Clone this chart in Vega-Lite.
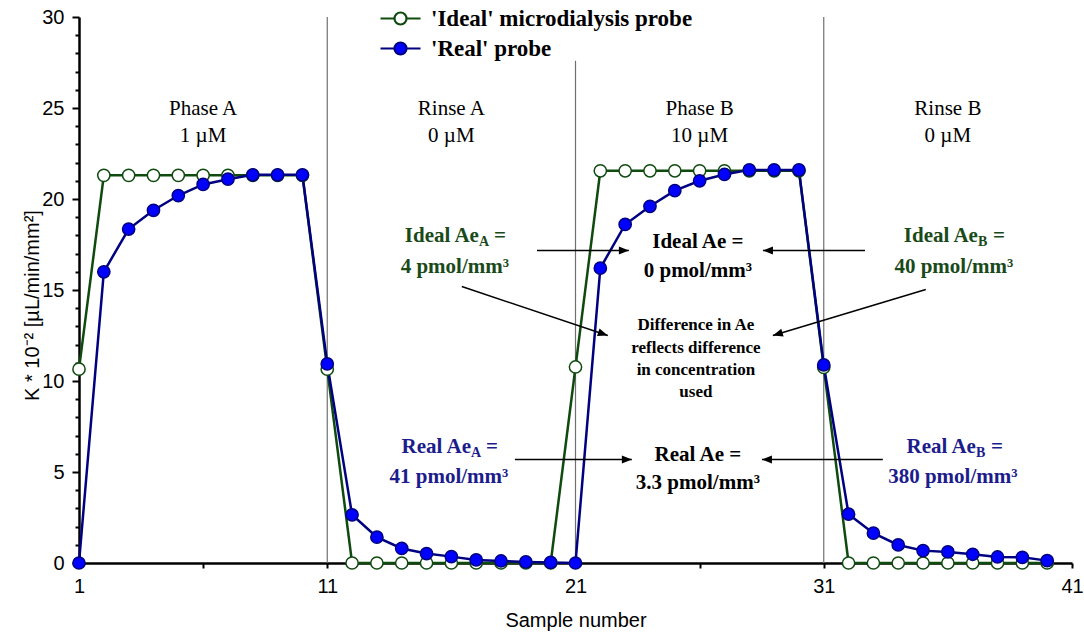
{
  "$schema": "https://vega.github.io/schema/vega-lite/v6.json",
  "width": 993,
  "height": 546,
  "autosize": {"type": "none"},
  "padding": {"left": 79, "top": 17, "right": 12, "bottom": 70},
  "background": "white",
  "config": {
    "view": {"stroke": null},
    "font": "Liberation Sans"
  },
  "datasets": {
    "probe": [
      {"series": "'Ideal' microdialysis probe", "sample": 1, "K": 10.65},
      {"series": "'Ideal' microdialysis probe", "sample": 2, "K": 21.3},
      {"series": "'Ideal' microdialysis probe", "sample": 3, "K": 21.3},
      {"series": "'Ideal' microdialysis probe", "sample": 4, "K": 21.3},
      {"series": "'Ideal' microdialysis probe", "sample": 5, "K": 21.3},
      {"series": "'Ideal' microdialysis probe", "sample": 6, "K": 21.3},
      {"series": "'Ideal' microdialysis probe", "sample": 7, "K": 21.3},
      {"series": "'Ideal' microdialysis probe", "sample": 8, "K": 21.3},
      {"series": "'Ideal' microdialysis probe", "sample": 9, "K": 21.3},
      {"series": "'Ideal' microdialysis probe", "sample": 10, "K": 21.3},
      {"series": "'Ideal' microdialysis probe", "sample": 11, "K": 10.65},
      {"series": "'Ideal' microdialysis probe", "sample": 12, "K": 0},
      {"series": "'Ideal' microdialysis probe", "sample": 13, "K": 0},
      {"series": "'Ideal' microdialysis probe", "sample": 14, "K": 0},
      {"series": "'Ideal' microdialysis probe", "sample": 15, "K": 0},
      {"series": "'Ideal' microdialysis probe", "sample": 16, "K": 0},
      {"series": "'Ideal' microdialysis probe", "sample": 17, "K": 0},
      {"series": "'Ideal' microdialysis probe", "sample": 18, "K": 0},
      {"series": "'Ideal' microdialysis probe", "sample": 19, "K": 0},
      {"series": "'Ideal' microdialysis probe", "sample": 20, "K": 0},
      {"series": "'Ideal' microdialysis probe", "sample": 21, "K": 10.77},
      {"series": "'Ideal' microdialysis probe", "sample": 22, "K": 21.55},
      {"series": "'Ideal' microdialysis probe", "sample": 23, "K": 21.55},
      {"series": "'Ideal' microdialysis probe", "sample": 24, "K": 21.55},
      {"series": "'Ideal' microdialysis probe", "sample": 25, "K": 21.55},
      {"series": "'Ideal' microdialysis probe", "sample": 26, "K": 21.55},
      {"series": "'Ideal' microdialysis probe", "sample": 27, "K": 21.55},
      {"series": "'Ideal' microdialysis probe", "sample": 28, "K": 21.55},
      {"series": "'Ideal' microdialysis probe", "sample": 29, "K": 21.55},
      {"series": "'Ideal' microdialysis probe", "sample": 30, "K": 21.55},
      {"series": "'Ideal' microdialysis probe", "sample": 31, "K": 10.75},
      {"series": "'Ideal' microdialysis probe", "sample": 32, "K": 0},
      {"series": "'Ideal' microdialysis probe", "sample": 33, "K": 0},
      {"series": "'Ideal' microdialysis probe", "sample": 34, "K": 0},
      {"series": "'Ideal' microdialysis probe", "sample": 35, "K": 0},
      {"series": "'Ideal' microdialysis probe", "sample": 36, "K": 0},
      {"series": "'Ideal' microdialysis probe", "sample": 37, "K": 0},
      {"series": "'Ideal' microdialysis probe", "sample": 38, "K": 0},
      {"series": "'Ideal' microdialysis probe", "sample": 39, "K": 0},
      {"series": "'Ideal' microdialysis probe", "sample": 40, "K": 0},
      {"series": "'Real' probe", "sample": 1, "K": 0},
      {"series": "'Real' probe", "sample": 2, "K": 16.0},
      {"series": "'Real' probe", "sample": 3, "K": 18.35},
      {"series": "'Real' probe", "sample": 4, "K": 19.38},
      {"series": "'Real' probe", "sample": 5, "K": 20.19},
      {"series": "'Real' probe", "sample": 6, "K": 20.8},
      {"series": "'Real' probe", "sample": 7, "K": 21.09},
      {"series": "'Real' probe", "sample": 8, "K": 21.33},
      {"series": "'Real' probe", "sample": 9, "K": 21.33},
      {"series": "'Real' probe", "sample": 10, "K": 21.33},
      {"series": "'Real' probe", "sample": 11, "K": 10.94},
      {"series": "'Real' probe", "sample": 12, "K": 2.65},
      {"series": "'Real' probe", "sample": 13, "K": 1.42},
      {"series": "'Real' probe", "sample": 14, "K": 0.8},
      {"series": "'Real' probe", "sample": 15, "K": 0.52},
      {"series": "'Real' probe", "sample": 16, "K": 0.35},
      {"series": "'Real' probe", "sample": 17, "K": 0.17},
      {"series": "'Real' probe", "sample": 18, "K": 0.11},
      {"series": "'Real' probe", "sample": 19, "K": 0.06},
      {"series": "'Real' probe", "sample": 20, "K": 0.03},
      {"series": "'Real' probe", "sample": 21, "K": 0},
      {"series": "'Real' probe", "sample": 22, "K": 16.2},
      {"series": "'Real' probe", "sample": 23, "K": 18.6},
      {"series": "'Real' probe", "sample": 24, "K": 19.6},
      {"series": "'Real' probe", "sample": 25, "K": 20.46},
      {"series": "'Real' probe", "sample": 26, "K": 21.0},
      {"series": "'Real' probe", "sample": 27, "K": 21.35},
      {"series": "'Real' probe", "sample": 28, "K": 21.6},
      {"series": "'Real' probe", "sample": 29, "K": 21.6},
      {"series": "'Real' probe", "sample": 30, "K": 21.6},
      {"series": "'Real' probe", "sample": 31, "K": 10.88},
      {"series": "'Real' probe", "sample": 32, "K": 2.68},
      {"series": "'Real' probe", "sample": 33, "K": 1.64},
      {"series": "'Real' probe", "sample": 34, "K": 0.99},
      {"series": "'Real' probe", "sample": 35, "K": 0.68},
      {"series": "'Real' probe", "sample": 36, "K": 0.61},
      {"series": "'Real' probe", "sample": 37, "K": 0.48},
      {"series": "'Real' probe", "sample": 38, "K": 0.33},
      {"series": "'Real' probe", "sample": 39, "K": 0.31},
      {"series": "'Real' probe", "sample": 40, "K": 0.13}
    ],
    "dividers": [
      {"sample": 11, "K": 0, "top": 30},
      {"sample": 21, "K": 0, "top": 27.6},
      {"sample": 31, "K": 0, "top": 30}
    ],
    "labels": [
      {"role": "phase", "tone": "neutral", "text": "Phase A", "sample": 6, "K": 24.92},
      {"role": "phase", "tone": "neutral", "text": "1 µM", "sample": 6, "K": 23.44},
      {"role": "phase", "tone": "neutral", "text": "Rinse A", "sample": 16, "K": 24.92},
      {"role": "phase", "tone": "neutral", "text": "0 µM", "sample": 16, "K": 23.44},
      {"role": "phase", "tone": "neutral", "text": "Phase B", "sample": 26, "K": 24.92},
      {"role": "phase", "tone": "neutral", "text": "10 µM", "sample": 26, "K": 23.44},
      {"role": "phase", "tone": "neutral", "text": "Rinse B", "sample": 36, "K": 24.92},
      {"role": "phase", "tone": "neutral", "text": "0 µM", "sample": 36, "K": 23.44},
      {"role": "name", "tone": "ideal", "text": "Ideal Ae", "sample": 17.11, "K": 17.94},
      {"role": "sub", "tone": "ideal", "text": "A", "sample": 17.11, "K": 17.94},
      {"role": "eq", "tone": "ideal", "text": "=", "sample": 17.11, "K": 17.94},
      {"role": "main", "tone": "ideal", "text": "4 pmol/mm³", "sample": 16.14, "K": 16.24},
      {"role": "name", "tone": "ideal", "text": "Ideal Ae", "sample": 37.21, "K": 17.94},
      {"role": "sub", "tone": "ideal", "text": "B", "sample": 37.21, "K": 17.94},
      {"role": "eq", "tone": "ideal", "text": "=", "sample": 37.21, "K": 17.94},
      {"role": "main", "tone": "ideal", "text": "40 pmol/mm³", "sample": 36.24, "K": 16.24},
      {"role": "main", "tone": "neutral", "text": "Ideal Ae =", "sample": 25.93, "K": 17.61},
      {"role": "main", "tone": "neutral", "text": "0 pmol/mm³", "sample": 25.93, "K": 16.02},
      {"role": "diff", "tone": "neutral", "text": "Difference in Ae", "sample": 25.85, "K": 13.05},
      {"role": "diff", "tone": "neutral", "text": "reflects difference", "sample": 25.85, "K": 11.84},
      {"role": "diff", "tone": "neutral", "text": "in concentration", "sample": 25.85, "K": 10.58},
      {"role": "diff", "tone": "neutral", "text": "used", "sample": 25.85, "K": 9.42},
      {"role": "name", "tone": "real", "text": "Real Ae", "sample": 16.79, "K": 6.4},
      {"role": "sub", "tone": "real", "text": "A", "sample": 16.79, "K": 6.4},
      {"role": "eq", "tone": "real", "text": "=", "sample": 16.79, "K": 6.4},
      {"role": "main", "tone": "real", "text": "41 pmol/mm³", "sample": 15.9, "K": 4.75},
      {"role": "name", "tone": "real", "text": "Real Ae", "sample": 37.13, "K": 6.4},
      {"role": "sub", "tone": "real", "text": "B", "sample": 37.13, "K": 6.4},
      {"role": "eq", "tone": "real", "text": "=", "sample": 37.13, "K": 6.4},
      {"role": "main", "tone": "real", "text": "380 pmol/mm³", "sample": 36.2, "K": 4.75},
      {"role": "main", "tone": "neutral", "text": "Real Ae =", "sample": 25.93, "K": 5.96},
      {"role": "main", "tone": "neutral", "text": "3.3 pmol/mm³", "sample": 25.93, "K": 4.42}
    ],
    "arrows": [
      {"sample": 19.45, "K": 17.17, "sample2": 23.15, "K2": 17.17},
      {"sample": 32.66, "K": 17.17, "sample2": 28.55, "K2": 17.17},
      {"sample": 16.42, "K": 15.19, "sample2": 22.3, "K2": 12.5},
      {"sample": 35.11, "K": 15.03, "sample2": 28.95, "K2": 12.5},
      {"sample": 18.56, "K": 5.69, "sample2": 23.27, "K2": 5.69},
      {"sample": 33.38, "K": 5.69, "sample2": 28.51, "K2": 5.69}
    ],
    "heads": [
      {"sample": 23.15, "K": 17.17, "angle": 0},
      {"sample": 28.55, "K": 17.17, "angle": 180},
      {"sample": 22.3, "K": 12.5, "angle": 18.5},
      {"sample": 28.95, "K": 12.5, "angle": 163.3},
      {"sample": 23.27, "K": 5.69, "angle": 0},
      {"sample": 28.51, "K": 5.69, "angle": 180}
    ]
  },
  "encoding": {
    "x": {
      "field": "sample",
      "type": "quantitative",
      "scale": {"domain": [1, 41], "nice": false, "zero": false},
      "axis": {
        "values": [1, 6, 11, 16, 21, 26, 31, 36, 41],
        "labelExpr": "(datum.value - 1) % 10 === 0 ? datum.label : ''",
        "grid": false,
        "ticks": true,
        "tickSize": 5,
        "tickWidth": 2,
        "tickColor": "black",
        "domainColor": "black",
        "domainWidth": 2.5,
        "labelFont": "Liberation Sans",
        "labelFontSize": 20,
        "labelColor": "black",
        "labelPadding": 8,
        "labelFlush": false,
        "labelOverlap": false,
        "title": "Sample number",
        "titleFont": "Liberation Sans",
        "titleFontSize": 20,
        "titleFontWeight": "normal",
        "titleColor": "black",
        "titleY": 57,
        "titleBaseline": "middle"
      }
    },
    "y": {
      "field": "K",
      "type": "quantitative",
      "scale": {"domain": [0, 30], "nice": false},
      "axis": {
        "values": [0, 1, 2, 3, 4, 5, 6, 7, 8, 9, 10, 11, 12, 13, 14, 15, 16, 17, 18, 19, 20, 21, 22, 23, 24, 25, 26, 27, 28, 29, 30],
        "labelExpr": "datum.value % 5 === 0 ? datum.label : ''",
        "grid": false,
        "ticks": true,
        "tickSize": {"condition": {"test": "datum.value % 5 === 0", "value": 7}, "value": 4},
        "tickWidth": 2,
        "tickColor": "black",
        "domainColor": "black",
        "domainWidth": 2.5,
        "labelFont": "Liberation Sans",
        "labelFontSize": 20,
        "labelColor": "black",
        "labelPadding": 8,
        "labelOverlap": false,
        "labelFlush": false,
        "labelBound": false,
        "title": "K * 10⁻² [µL/min/mm²]",
        "titleFont": "Liberation Sans",
        "titleFontSize": 20,
        "titleFontWeight": "normal",
        "titleColor": "black",
        "titleX": -47,
        "titleY": 288,
        "titleAlign": "center",
        "titleBaseline": "middle"
      }
    }
  },
  "layer": [
    {
      "data": {"name": "dividers"},
      "mark": {"type": "rule", "color": "#707070", "strokeWidth": 1.2},
      "encoding": {
        "y2": {"field": "top"}
      }
    },
    {
      "data": {"name": "probe"},
      "mark": {"type": "line", "strokeWidth": 2.5},
      "encoding": {
        "stroke": {
          "field": "series",
          "type": "nominal",
          "scale": {"domain": ["'Ideal' microdialysis probe", "'Real' probe"], "range": ["#0f4a0f", "#000080"]},
          "legend": {
            "orient": "none",
            "legendX": 316,
            "legendY": -12,
            "title": null,
            "padding": 0,
            "symbolType": "M-2.333,0L-1.167,0M-0.167,0L1,0M-1.167,0A0.5,0.5,0,1,1,-0.167,0A0.5,0.5,0,1,1,-1.167,0Z",
            "symbolSize": 576,
            "symbolStrokeWidth": 2.2,
            "labelFont": "Liberation Serif",
            "labelFontWeight": "bold",
            "labelFontSize": 23,
            "labelColor": "black",
            "labelOffset": 9,
            "rowPadding": 4,
            "labelLimit": 400
          }
        }
      }
    },
    {
      "data": {"name": "probe"},
      "mark": {"type": "point", "filled": true, "size": 150, "strokeWidth": 1.5, "opacity": 1},
      "encoding": {
        "stroke": {"field": "series", "type": "nominal"},
        "fill": {
          "field": "series",
          "type": "nominal",
          "scale": {"domain": ["'Ideal' microdialysis probe", "'Real' probe"], "range": ["#ffffff", "#0000ff"]},
          "legend": {
            "orient": "none",
            "legendX": 316,
            "legendY": -12,
            "title": null,
            "padding": 0,
            "symbolType": "M-2.333,0L-1.167,0M-0.167,0L1,0M-1.167,0A0.5,0.5,0,1,1,-0.167,0A0.5,0.5,0,1,1,-1.167,0Z",
            "symbolSize": 576,
            "symbolStrokeWidth": 2.2,
            "labelFont": "Liberation Serif",
            "labelFontWeight": "bold",
            "labelFontSize": 23,
            "labelColor": "black",
            "labelOffset": 9,
            "rowPadding": 4,
            "labelLimit": 400
          }
        }
      }
    },
    {
      "data": {"name": "arrows"},
      "mark": {"type": "rule", "color": "black", "strokeWidth": 1.5},
      "encoding": {
        "x2": {"field": "sample2"},
        "y2": {"field": "K2"}
      }
    },
    {
      "data": {"name": "heads"},
      "mark": {"type": "point", "shape": "M0,0L-2,-0.8L-2,0.8Z", "filled": true, "color": "black", "size": 100, "opacity": 1},
      "encoding": {
        "angle": {"field": "angle", "type": "quantitative", "scale": null}
      }
    },
    {
      "data": {"name": "labels"},
      "transform": [{"filter": "datum.role === 'phase'"}],
      "mark": {"type": "text", "font": "Liberation Serif", "fontSize": 21, "align": "center", "baseline": "middle", "color": "black"},
      "encoding": {
        "text": {"field": "text"}
      }
    },
    {
      "data": {"name": "labels"},
      "transform": [{"filter": "datum.role === 'main'"}],
      "mark": {"type": "text", "font": "Liberation Serif", "fontWeight": "bold", "fontSize": 21, "align": "center", "baseline": "middle"},
      "encoding": {
        "text": {"field": "text"},
        "color": {"field": "tone", "type": "nominal", "scale": {"domain": ["ideal", "real", "neutral"], "range": ["#1a4a1a", "#1c1c8c", "#000000"]}, "legend": null}
      }
    },
    {
      "data": {"name": "labels"},
      "transform": [{"filter": "datum.role === 'name'"}],
      "mark": {"type": "text", "font": "Liberation Serif", "fontWeight": "bold", "fontSize": 21, "align": "right", "baseline": "middle"},
      "encoding": {
        "text": {"field": "text"},
        "color": {"field": "tone", "type": "nominal", "legend": null}
      }
    },
    {
      "data": {"name": "labels"},
      "transform": [{"filter": "datum.role === 'sub'"}],
      "mark": {"type": "text", "font": "Liberation Serif", "fontWeight": "bold", "fontSize": 14, "align": "left", "baseline": "middle", "dy": 6},
      "encoding": {
        "text": {"field": "text"},
        "color": {"field": "tone", "type": "nominal", "legend": null}
      }
    },
    {
      "data": {"name": "labels"},
      "transform": [{"filter": "datum.role === 'eq'"}],
      "mark": {"type": "text", "font": "Liberation Serif", "fontWeight": "bold", "fontSize": 21, "align": "left", "baseline": "middle", "dx": 15},
      "encoding": {
        "text": {"field": "text"},
        "color": {"field": "tone", "type": "nominal", "legend": null}
      }
    },
    {
      "data": {"name": "labels"},
      "transform": [{"filter": "datum.role === 'diff'"}],
      "mark": {"type": "text", "font": "Liberation Serif", "fontWeight": "bold", "fontSize": 17, "align": "center", "baseline": "middle", "color": "black"},
      "encoding": {
        "text": {"field": "text"}
      }
    }
  ]
}
